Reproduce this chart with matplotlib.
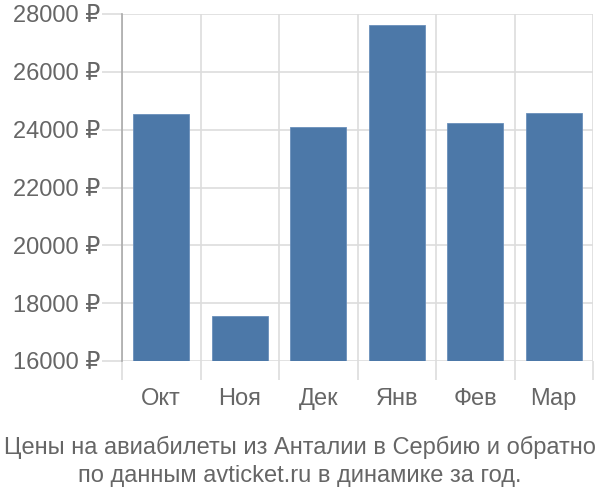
import matplotlib
matplotlib.use("Agg")
import matplotlib.pyplot as plt
import numpy as np

months = ["Окт", "Ноя", "Дек", "Янв", "Фев", "Мар"]
prices = [24530, 17540, 24080, 27610, 24240, 24590]
yticks = [16000, 18000, 20000, 22000, 24000, 26000, 28000]
title = "Цены на авиабилеты из Анталии в Сербию и обратно\nпо данным avticket.ru в динамике за год."

plt.rcParams['font.family'] = ['Liberation Sans', 'DejaVu Sans']

fig = plt.figure(figsize=(6, 5), dpi=100)
ax = fig.add_axes([122/600, 1-361/500, (593-122)/600, (361-14)/500])

x = np.arange(len(months))
ax.bar(x, np.array(prices) - 16000, bottom=16000, width=0.71, color="#4c78a8",
       edgecolor="#6a8fbb", linewidth=0.6, zorder=3)

ax.set_xlim(-0.5, len(months) - 0.5)
ax.set_ylim(16000, 28000)

ax.set_yticks(yticks)
ax.set_yticklabels([f"{v} ₽" for v in yticks])
ax.set_xticks(x)
ax.set_xticklabels(months)
ax.set_xticks(np.arange(len(months) + 1) - 0.5, minor=True)

ax.tick_params(axis='y', which='major', length=14.4, width=1.2, color="#dddddd",
               labelsize=17, labelcolor="#666666", pad=1.5)
ax.tick_params(axis='x', which='major', length=0, labelsize=17, labelcolor="#666666", pad=19.5)
ax.tick_params(axis='x', which='minor', length=13.7, width=1.2, color="#dddddd")

ax.grid(axis='y', which='major', color="#dddddd", linewidth=1.2, zorder=0)
ax.grid(axis='x', which='minor', color="#dddddd", linewidth=1.2, zorder=0)

for s in ["top", "right", "bottom"]:
    ax.spines[s].set_visible(False)
ax.spines["left"].set_color("#aaaaaa")
ax.spines["left"].set_linewidth(1.2)

# darker first minor tick continues the left spine
minor = ax.xaxis.get_minor_ticks()
minor[0].tick1line.set_color("#aaaaaa")

fig.text(0.5, 1 - 461/500, title, ha="center", va="center", fontsize=17,
         color="#666666", linespacing=1.35)

fig.savefig("out.png", dpi=100)
